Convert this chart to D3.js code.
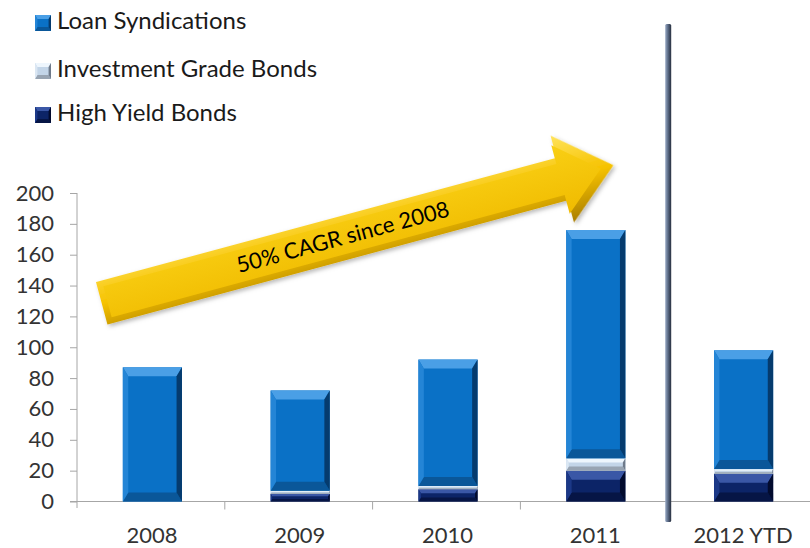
<!DOCTYPE html>
<html>
<head>
<meta charset="utf-8">
<script src="https://cdn.jsdelivr.net/npm/d3@7/dist/d3.min.js"></script>
<style>
  html, body { margin: 0; padding: 0; background: #fff; }
  svg { display: block; font-family: Lato, "Open Sans", sans-serif; }
</style>
</head>
<body>
<svg id="chart" width="810" height="548"></svg>
<script>
// Debt capital markets volume by product (US$ bn)
const categories = ["2008", "2009", "2010", "2011", "2012 YTD"];
const highYieldBonds = [0, 5, 8, 20, 18];
const investmentGradeBonds = [0, 2, 2, 8, 3];
const loanSyndications = [87, 65, 82, 148, 77];
const yTicks = [0, 20, 40, 60, 80, 100, 120, 140, 160, 180, 200];
const seriesNames = ["Loan Syndications", "Investment Grade Bonds", "High Yield Bonds"];
const arrowLabel = "50% CAGR since 2008";

const svg = d3.select("#chart");
const defs = svg.append("defs");

const x = d3.scaleBand().domain(categories).range([77, 816]).padding(0);
const y = d3.scaleLinear().domain([0, 200]).range([501.5, 193]);

// bevelled look for each segment colour
const palettes = {
  loan: { face: "#0a71c6", top: "#4a9fe6", left: "#2485d6", right: "#053b6e", bottom: "#0a5799" },
  ig:   { face: "#c3d5e8", top: "#eef6fd", left: "#dbe7f3", right: "#6e7a8a", bottom: "#98a4b2" },
  hy:   { face: "#0c2467", top: "#3a57a6", left: "#1b3887", right: "#020b2e", bottom: "#061545" }
};

function bevelRect(g, x0, y0, w, h, p, bv) {
  const b = Math.max(0, Math.min(bv, h / 3, w / 4));
  const x1 = x0 + w, y1 = y0 + h;
  const poly = pts => pts.map(q => q.join(",")).join(" ");
  g.append("rect").attr("x", x0).attr("y", y0).attr("width", w).attr("height", h).attr("fill", p.face);
  if (b <= 0.2) return;
  const s = b * 0.6; // narrower side bevels
  g.append("polygon").attr("points", poly([[x0, y0], [x1, y0], [x1 - s, y0 + b], [x0 + s, y0 + b]])).attr("fill", p.top);
  g.append("polygon").attr("points", poly([[x0, y1], [x1, y1], [x1 - s, y1 - b], [x0 + s, y1 - b]])).attr("fill", p.bottom);
  g.append("polygon").attr("points", poly([[x0, y0], [x0 + s, y0 + b], [x0 + s, y1 - b], [x0, y1]])).attr("fill", p.left);
  g.append("polygon").attr("points", poly([[x1, y0], [x1 - s, y0 + b], [x1 - s, y1 - b], [x1, y1]])).attr("fill", p.right);
}

// ---- axes ----
const axisColor = "#a6a6a6";
const yAxis = svg.append("g").attr("transform", "translate(77,0)")
  .call(d3.axisLeft(y).tickValues(yTicks).tickSize(7).tickSizeOuter(0).tickPadding(16));
yAxis.select(".domain").remove();
yAxis.selectAll(".tick line").attr("stroke", axisColor);
yAxis.selectAll(".tick text").attr("fill", "#333").attr("font-size", 22).attr("font-family", "Lato, sans-serif");
svg.append("line").attr("x1", 77).attr("x2", 77).attr("y1", y(200)).attr("y2", 508).attr("stroke", axisColor);

svg.append("line").attr("x1", 70).attr("x2", 810).attr("y1", y(0)).attr("y2", y(0)).attr("stroke", axisColor);
const boundaries = categories.slice(1).map(c => x(c));
svg.append("g").selectAll("line").data(boundaries).join("line")
  .attr("x1", d => d).attr("x2", d => d).attr("y1", y(0)).attr("y2", y(0) + 8).attr("stroke", axisColor);
svg.append("g").selectAll("text").data(categories).join("text")
  .attr("x", d => x(d) + x.bandwidth() / 2 + 1)
  .attr("y", 543)
  .attr("text-anchor", "middle")
  .attr("fill", "#333").attr("font-size", 22)
  .text(d => d);

// ---- stacked bars ----
const rows = categories.map((c, i) => ({
  cat: c, hy: highYieldBonds[i], ig: investmentGradeBonds[i], loan: loanSyndications[i]
}));
const stack = d3.stack().keys(["hy", "ig", "loan"])(rows);
const barW = x.bandwidth() * 0.4;
const barsG = svg.append("g");
stack.forEach(layer => {
  const p = palettes[layer.key];
  layer.forEach(seg => {
    const h = y(seg[0]) - y(seg[1]);
    if (h <= 0) return;
    const cx = x(seg.data.cat) + x.bandwidth() / 2 + 1.5;
    bevelRect(barsG, cx - barW / 2, y(seg[1]), barW, h, p, 9);
  });
});

// ---- separator before the year-to-date column ----
const sepGrad = defs.append("linearGradient").attr("id", "sepGrad").attr("x1", 0).attr("x2", 1).attr("y1", 0).attr("y2", 0);
sepGrad.append("stop").attr("offset", 0).attr("stop-color", "#9aabc6");
sepGrad.append("stop").attr("offset", 0.45).attr("stop-color", "#5d6d88");
sepGrad.append("stop").attr("offset", 1).attr("stop-color", "#262e3e");
const sepX = x("2012 YTD");
svg.append("rect").attr("x", sepX - 3).attr("y", 24).attr("width", 6).attr("height", 498)
  .attr("rx", 1.5).attr("fill", "url(#sepGrad)");

// ---- growth arrow ----
const arrow = { x: 101.7, y: 303.3, angle: -15.1, shaftLen: 477, headLen: 53, shaftHalf: 22, headHalf: 45 };
const shadow = defs.append("filter").attr("id", "arrowShadow").attr("x", "-10%").attr("y", "-30%").attr("width", "120%").attr("height", "160%");
shadow.append("feDropShadow").attr("dx", 1.5).attr("dy", 2.5).attr("stdDeviation", 2).attr("flood-color", "#000").attr("flood-opacity", 0.28);
const goldGrad = defs.append("linearGradient").attr("id", "goldGrad").attr("x1", 0).attr("x2", 0).attr("y1", 0).attr("y2", 1);
goldGrad.append("stop").attr("offset", 0).attr("stop-color", "#ffe35a");
goldGrad.append("stop").attr("offset", 0.5).attr("stop-color", "#f6c200");
goldGrad.append("stop").attr("offset", 1).attr("stop-color", "#a97d00");
const goldFace = defs.append("linearGradient").attr("id", "goldFace").attr("x1", 0).attr("x2", 0).attr("y1", 0).attr("y2", 1);
goldFace.append("stop").attr("offset", 0).attr("stop-color", "#f9cf14");
goldFace.append("stop").attr("offset", 1).attr("stop-color", "#f0bb00");

function arrowPoints(inset) {
  const L = arrow.shaftLen, H = arrow.headLen, s = arrow.shaftHalf - inset, hh = arrow.headHalf - inset * 1.6;
  return [
    [inset, -s], [L - inset * 0.3, -s], [L - inset * 0.3, -hh], [L + H - inset * 2.2, 0],
    [L - inset * 0.3, hh], [L - inset * 0.3, s], [inset, s]
  ].map(q => q.join(",")).join(" ");
}
const ag = svg.append("g").attr("transform", `translate(${arrow.x},${arrow.y}) rotate(${arrow.angle})`);
ag.append("polygon").attr("points", arrowPoints(0)).attr("fill", "url(#goldGrad)").attr("filter", "url(#arrowShadow)");
ag.append("polygon").attr("points", arrowPoints(6)).attr("fill", "url(#goldFace)");
ag.append("text").attr("x", 250).attr("y", 1).attr("text-anchor", "middle").attr("dominant-baseline", "middle")
  .attr("font-size", 22).attr("fill", "#000").text(arrowLabel);

// ---- legend ----
const legendKeys = ["loan", "ig", "hy"];
const legend = svg.append("g");
const legendY = [23, 71, 115];
seriesNames.forEach((name, i) => {
  const g = legend.append("g");
  bevelRect(g, 35, legendY[i] - 8, 16, 16, palettes[legendKeys[i]], 4);
  g.append("text").attr("x", 57).attr("y", legendY[i]).attr("dominant-baseline", "middle")
    .attr("font-size", 24).attr("fill", "#1a1a1a").text(name);
});
</script>
</body>
</html>
